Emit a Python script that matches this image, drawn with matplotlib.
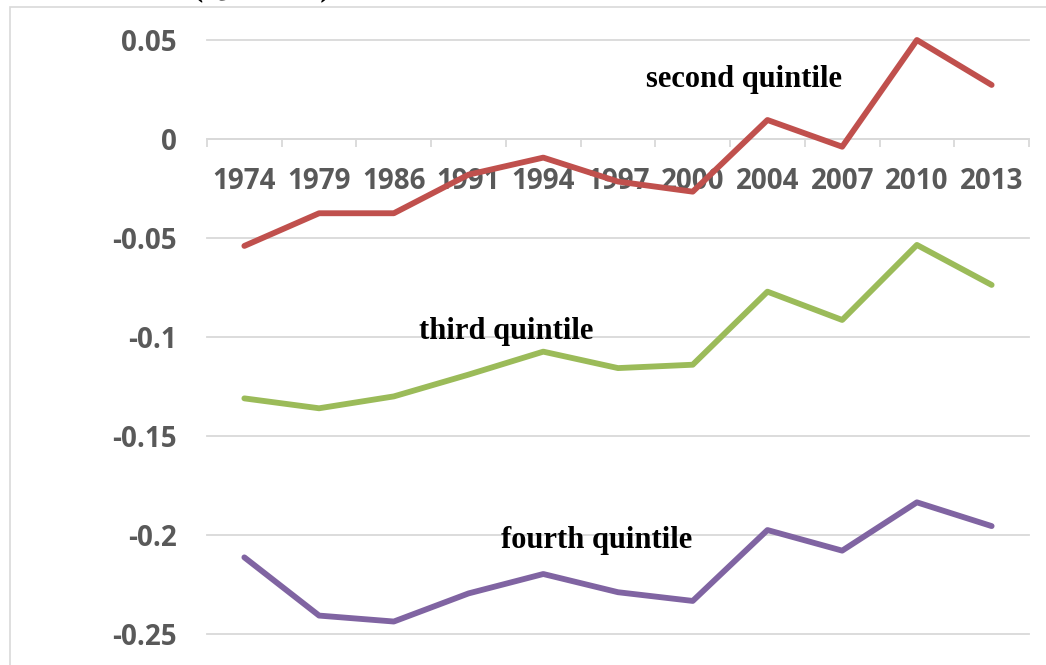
import matplotlib
matplotlib.use("Agg")
import matplotlib.pyplot as plt
from matplotlib.patches import Rectangle

years = ["1974", "1979", "1986", "1991", "1994", "1997", "2000", "2004", "2007", "2010", "2013"]
second_q = [-0.054, -0.0375, -0.0375, -0.018, -0.0094, -0.0215, -0.0266, 0.0096, -0.0039, 0.050, 0.0273]
third_q = [-0.131, -0.136, -0.130, -0.119, -0.1074, -0.1157, -0.114, -0.0771, -0.0914, -0.0535, -0.0737]
fourth_q = [-0.2113, -0.2407, -0.2437, -0.2295, -0.2197, -0.2289, -0.2333, -0.1975, -0.2079, -0.1835, -0.1955]
yticks = [0.05, 0.0, -0.05, -0.1, -0.15, -0.2, -0.25]
ytick_labels = ["0.05", "0", "-0.05", "-0.1", "-0.15", "-0.2", "-0.25"]

W, H = 1046, 665
fig = plt.figure(figsize=(W / 100, H / 100), dpi=100)
fig.patch.set_facecolor("white")

# chart border (partially outside the picture)
fig.patches.append(Rectangle((10 / W, -0.1), 1.2, 1 - 7 / H + 0.1, transform=fig.transFigure,
                             fill=False, edgecolor="#d9d9d9", linewidth=1.2, zorder=0))
# cut-off title at top
fig.text(262 / W, 1 + 5 / H, "(Q1 = 100)", ha="center", va="baseline",
         fontsize=22, fontweight="bold", family="Liberation Serif", color="black")

ax = fig.add_axes([207 / W, 1 - 634 / H, 822 / W, 594 / H])
ax.set_facecolor("none")
x = list(range(len(years)))

grid_c = "#d9d9d9"
for v in yticks:
    ax.axhline(v, color=grid_c, lw=1.3, zorder=1, clip_on=False)

lkw = dict(lw=4.2, solid_capstyle="round", solid_joinstyle="round", zorder=3, clip_on=False)
ax.plot(x, second_q, color="#C0504D", **lkw)
ax.plot(x, third_q, color="#9BBB59", **lkw)
ax.plot(x, fourth_q, color="#8064A2", **lkw)

ax.set_xlim(-0.5, len(years) - 0.5)
ax.set_ylim(-0.25, 0.05)

for s in ["left", "right", "top"]:
    ax.spines[s].set_visible(False)
ax.spines["bottom"].set_position(("data", 0))
ax.spines["bottom"].set_color(grid_c)
ax.spines["bottom"].set_linewidth(1.3)
ax.spines["bottom"].set_zorder(1)

tick_font = dict(family="Open Sans", weight="bold", size=20)

ax.set_xticks(x)
ax.set_xticklabels(years, fontdict=tick_font)
ax.set_xticks([i - 0.5 for i in range(len(years) + 1)], minor=True)
ax.tick_params(axis="x", which="major", length=0, pad=20, labelcolor="#595959")
ax.tick_params(axis="x", which="minor", length=6, width=1.3, color=grid_c, direction="out")

ax.set_yticks(yticks)
ax.set_yticklabels(ytick_labels, fontdict=tick_font)
ax.tick_params(axis="y", length=0, pad=22, labelcolor="#595959")

txt_kw = dict(fontsize=22, fontweight="bold", family="Liberation Serif", color="black",
              ha="center", va="baseline", zorder=4)
ax.text(6.69, 0.0263, "second quintile", **txt_kw)
ax.text(3.51, -0.101, "third quintile", **txt_kw)
ax.text(4.71, -0.2066, "fourth quintile", **txt_kw)

fig.savefig("out.png", dpi=100, facecolor="white")
